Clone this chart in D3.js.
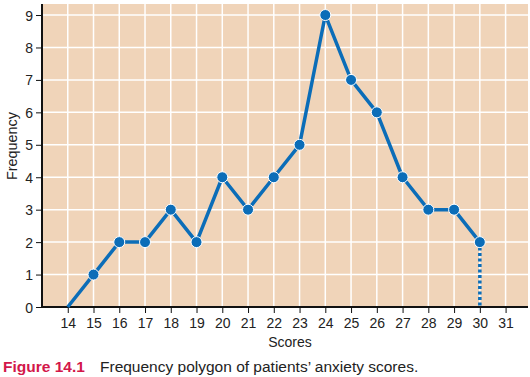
<!DOCTYPE html>
<html><head><meta charset="utf-8">
<script src="https://cdn.jsdelivr.net/npm/d3@7"></script>
<style>body{margin:0;background:#fff}svg{display:block}text{font-family:"Liberation Sans",Arial,sans-serif}</style>
</head><body>
<svg id="c" width="530" height="377"></svg>
<script>
const scores = [14,15,16,17,18,19,20,21,22,23,24,25,26,27,28,29,30];
const frequencies = [0,1,2,2,3,2,4,3,4,5,9,7,6,4,3,3,2];
const xTicks = [14,15,16,17,18,19,20,21,22,23,24,25,26,27,28,29,30,31];
const yTicks = [0,1,2,3,4,5,6,7,8,9];

const svg = d3.select("#c");
const L = 42, R = 528, T = 4, B = 307;
const x = d3.scaleLinear().domain([13, 31.87]).range([L, R]);
const y = d3.scaleLinear().domain([0, 9.34]).range([B, T]);

svg.append("rect").attr("x", L).attr("y", T).attr("width", R - L).attr("height", B - T).attr("fill", "#f0d4b9");

const g = svg.append("g");
g.selectAll(".vg").data(xTicks).enter().append("line")
  .attr("x1", d => x(d)).attr("x2", d => x(d)).attr("y1", T).attr("y2", B)
  .attr("stroke", "#fff").attr("stroke-width", 1.5);
g.selectAll(".hg").data(yTicks.slice(1)).enter().append("line")
  .attr("x1", L).attr("x2", R).attr("y1", d => y(d)).attr("y2", d => y(d))
  .attr("stroke", "#fff").attr("stroke-width", 1.5);

const xAxis = svg.append("g").attr("transform", `translate(0,${B})`)
  .call(d3.axisBottom(x).tickValues(xTicks).tickSize(6).tickPadding(5).tickSizeOuter(0));
const yAxis = svg.append("g").attr("transform", `translate(${L},0)`)
  .call(d3.axisLeft(y).tickValues(yTicks).tickSize(6).tickPadding(3).tickSizeOuter(0));
[xAxis, yAxis].forEach(a => {
  a.attr("font-size", 14);
  a.select(".domain").attr("stroke", "#111").attr("stroke-width", 2);
  a.selectAll(".tick line").attr("stroke", "#111").attr("stroke-width", 1);
  a.selectAll(".tick text").attr("font-size", 14).attr("fill", "#222").attr("font-family", '"Liberation Sans",Arial,sans-serif');
});
xAxis.select(".domain").attr("d", `M${L},0H${R}`);
yAxis.select(".domain").attr("d", `M0,${T}V${B}`);
yAxis.selectAll(".tick text").attr("dy", "0.36em");

const pts = scores.map((s, i) => [s, frequencies[i]]);
const line = d3.line().x(d => x(d[0])).y(d => y(d[1]));
const blue = "#0b6db8";
svg.append("path").datum(pts).attr("d", line).attr("fill", "none")
  .attr("stroke", blue).attr("stroke-width", 3.5).attr("stroke-linejoin", "round");
const last = pts[pts.length - 1];
svg.append("path").datum([last, [last[0], 0]]).attr("d", line).attr("fill", "none")
  .attr("stroke", blue).attr("stroke-width", 3.5).attr("stroke-dasharray", "3,2.5");
svg.selectAll(".pt").data(pts.filter(d => d[1] > 0)).enter().append("circle")
  .attr("cx", d => x(d[0])).attr("cy", d => y(d[1])).attr("r", 5.5)
  .attr("fill", blue).attr("stroke", "#fff").attr("stroke-width", 1);

svg.append("text").attr("x", 290).attr("y", 347).attr("text-anchor", "middle")
  .attr("font-size", 14).attr("fill", "#222").text("Scores");
svg.append("text").attr("transform", "translate(17,146) rotate(-90)").attr("text-anchor", "middle")
  .attr("font-size", 14.4).attr("fill", "#222").text("Frequency");

const cap = svg.append("text").attr("x", 3).attr("y", 372);
cap.append("tspan").attr("font-weight", "bold").attr("font-size", 15.5).attr("fill", "#d3174a").text("Figure 14.1");
cap.append("tspan").attr("x", 100).attr("font-size", 15.5).attr("fill", "#222").text("Frequency polygon of patients’ anxiety scores.");
</script>
</body></html>
